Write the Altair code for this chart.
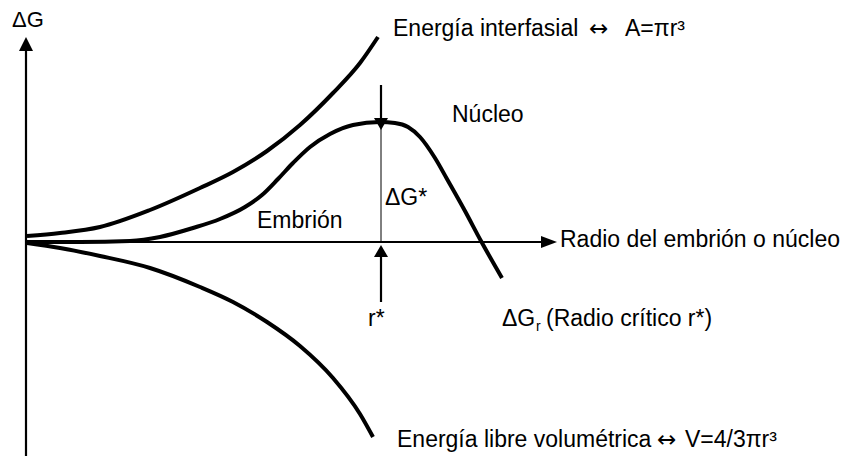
import altair as alt
import pandas as pd

# ---- data (radius r, free-energy change dG, arbitrary units) ----
R_INTERFACIAL = [1, 34, 74, 124, 174, 207, 241, 274, 307, 334, 352]
G_INTERFACIAL = [6, 9, 15, 32, 54, 70, 91, 117, 149, 179, 205]

R_VOLUMETRIC = [1, 34, 74, 124, 174, 207, 241, 274, 307, 334, 347]
G_VOLUMETRIC = [-1, -6, -14, -26, -45, -60, -80, -104, -136, -172, -195]

R_TOTAL = [0, 54, 104, 134, 167, 194, 219, 236, 252, 267, 284, 304, 327, 354,
           369, 382, 394, 409, 421, 439, 455, 476]
G_TOTAL = [0, 0, 1, 5, 14, 23, 35, 47, 63, 79, 95, 108, 117, 120,
           119, 115, 105, 84, 63, 31, 1, -36]

R_STAR = 355
G_STAR = 120

X_MIN, X_MAX = -18, 817
Y_MIN, Y_MAX = -214, 234

SANS = "Liberation Sans, Arial, Helvetica, sans-serif"
ARROWFONT = "DejaVu Sans, sans-serif"

LABELS = ["ΔG", "Energía interfasial", "↔", "A=πr³", "Núcleo", "ΔG*", "Embrión",
          "Radio del embrión o núcleo", "r*", "ΔG", "r", "(Radio crítico r*)",
          "Energía libre volumétrica", "↔", "V=4/3πr³"]
LABEL_R = [-14, 367, 563, 599, 426, 359, 231, 534, 342, 476, 510, 520, 371, 631, 659]
LABEL_G = [215, 206, 206, 206, 120, 37, 14, -5, -84, -84, -89, -84, -205, -205, -205]
LABEL_FS = [22, 23, 23, 23, 23, 23, 23, 23, 23, 23, 14, 23, 23, 23, 23]
LABEL_FONT = [SANS, SANS, ARROWFONT, SANS, SANS, SANS, SANS, SANS, SANS, SANS, SANS,
              SANS, SANS, ARROWFONT, SANS]

# ---- tables ----
curves = pd.concat([
    pd.DataFrame({"r": R_INTERFACIAL, "g": G_INTERFACIAL, "curve": "interfacial"}),
    pd.DataFrame({"r": R_VOLUMETRIC, "g": G_VOLUMETRIC, "curve": "volumetrica"}),
    pd.DataFrame({"r": R_TOTAL, "g": G_TOTAL, "curve": "total"}),
], ignore_index=True)

rules = pd.DataFrame({
    "r":  [0, 0, R_STAR, R_STAR, R_STAR],
    "g":  [Y_MIN, 0, 0, 157, -15],
    "r2": [0, 523, R_STAR, R_STAR, R_STAR],
    "g2": [198, 0, G_STAR, 118, -60],
    "w":  [2.2, 2.2, 1, 2.2, 2.2],
})

heads = pd.DataFrame({
    "r": [0, 523, R_STAR, R_STAR],
    "g": [198, 0, 118, -9],
    "shape": ["M0,-1 L1,1 L-1,1 Z",
              "M1,0 L-1,-0.75 L-1,0.75 Z",
              "M0,0.6 L0.7,-0.6 L-0.7,-0.6 Z",
              "M0,-0.6 L0.7,0.6 L-0.7,0.6 Z"],
    "size": [196, 256, 400, 400],
})

labels = pd.DataFrame({"text": LABELS, "r": LABEL_R, "g": LABEL_G,
                       "fs": LABEL_FS, "font": LABEL_FONT})

xs = alt.Scale(domain=[X_MIN, X_MAX], nice=False, zero=False)
ys = alt.Scale(domain=[Y_MIN, Y_MAX], nice=False, zero=False)

line_layer = alt.Chart(curves).mark_line(
    color="black", strokeWidth=4, interpolate="monotone"
).encode(
    x=alt.X("r:Q", scale=xs, axis=None),
    y=alt.Y("g:Q", scale=ys, axis=None),
    detail="curve:N",
)

rule_layer = alt.Chart(rules).mark_rule(color="black").encode(
    x=alt.X("r:Q", scale=xs, axis=None),
    y=alt.Y("g:Q", scale=ys, axis=None),
    x2="r2:Q",
    y2="g2:Q",
    strokeWidth=alt.StrokeWidth("w:Q", scale=None),
)

head_layer = alt.Chart(heads).mark_point(
    filled=True, color="black", opacity=1, strokeWidth=0
).encode(
    x=alt.X("r:Q", scale=xs, axis=None),
    y=alt.Y("g:Q", scale=ys, axis=None),
    shape=alt.Shape("shape:N", scale=None),
    size=alt.Size("size:Q", scale=None),
)

sans_labels = labels[labels["font"] == SANS]
arrow_labels = labels[labels["font"] == ARROWFONT]

text_layer = alt.Chart(sans_labels).mark_text(
    align="left", baseline="alphabetic", font=SANS, color="black"
).encode(
    x=alt.X("r:Q", scale=xs, axis=None),
    y=alt.Y("g:Q", scale=ys, axis=None),
    text="text:N",
    size=alt.Size("fs:Q", scale=None),
)

arrow_text_layer = alt.Chart(arrow_labels).mark_text(
    align="left", baseline="alphabetic", font=ARROWFONT, color="black"
).encode(
    x=alt.X("r:Q", scale=xs, axis=None),
    y=alt.Y("g:Q", scale=ys, axis=None),
    text="text:N",
    size=alt.Size("fs:Q", scale=None),
)

chart = alt.layer(line_layer, rule_layer, head_layer, text_layer, arrow_text_layer).properties(
    width=835, height=448, padding=0, autosize="none", background="white"
).configure_view(stroke=None)

chart.save("out.html", embed_options={"renderer": "svg", "actions": False})
